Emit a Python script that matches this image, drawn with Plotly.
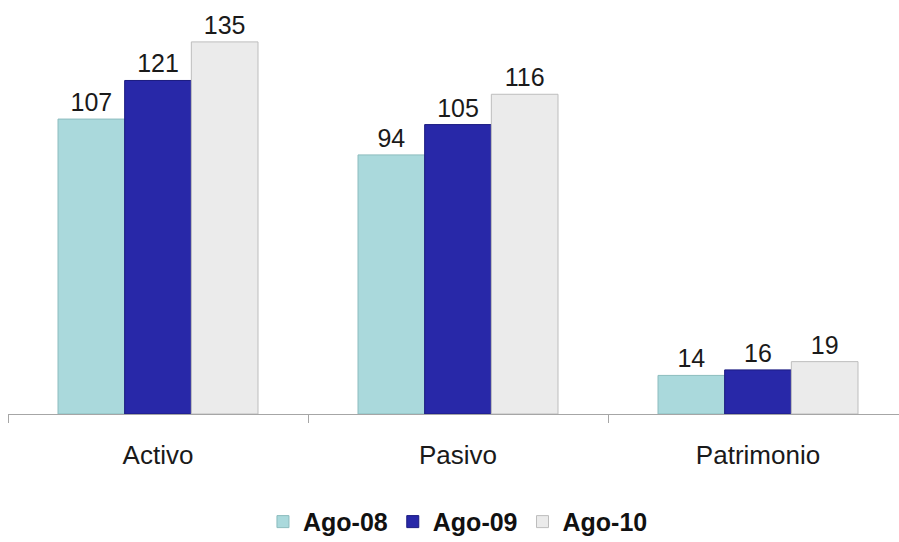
import plotly.graph_objects as go

categories = ["Activo", "Pasivo", "Patrimonio"]
series_names = ["Ago-08", "Ago-09", "Ago-10"]
values_ago08 = [107, 94, 14]
values_ago09 = [121, 105, 16]
values_ago10 = [135, 116, 19]

colors = ["#aad9dc", "#2828a8", "#ebebeb"]
edges = ["#8cbcbe", "#1a1a80", "#bdbdbd"]

fig = go.Figure()
for name, vals, col, edge in zip(series_names, [values_ago08, values_ago09, values_ago10], colors, edges):
    fig.add_trace(go.Bar(
        name=name, x=categories, y=vals,
        marker=dict(color=col, line=dict(color=edge, width=1)),
        text=[str(v) for v in vals], textposition="outside",
        textfont=dict(family="Liberation Sans, Arial", size=25, color="#1a1a1a"),
        cliponaxis=False,
    ))

fig.update_layout(
    width=899, height=542,
    margin=dict(l=8, r=0, t=0, b=128, autoexpand=False),
    paper_bgcolor="white", plot_bgcolor="white",
    barmode="group", bargap=1/3, bargroupgap=0,
    font=dict(family="Liberation Sans, Arial", color="#1a1a1a"),
    xaxis=dict(
        range=[-0.5, 2.47], showline=True, linecolor="#a6a6a6", linewidth=1,
        ticks="outside", tickson="boundaries", ticklen=8, tickcolor="#a6a6a6",
        tickfont=dict(size=26, color="#1a1a1a"), ticklabelstandoff=18,
        showgrid=False, fixedrange=True, automargin=False,
    ),
    yaxis=dict(range=[0, 150.2], visible=False, showgrid=False, fixedrange=True),
    legend=dict(
        orientation="h", x=0.505, xanchor="center", y=-0.205, yanchor="top",
        font=dict(size=25, family="Liberation Sans, Arial", weight="bold", color="#111111"),
        itemwidth=30, traceorder="normal",
    ),
    showlegend=True,
)

fig.write_html("out.html")
